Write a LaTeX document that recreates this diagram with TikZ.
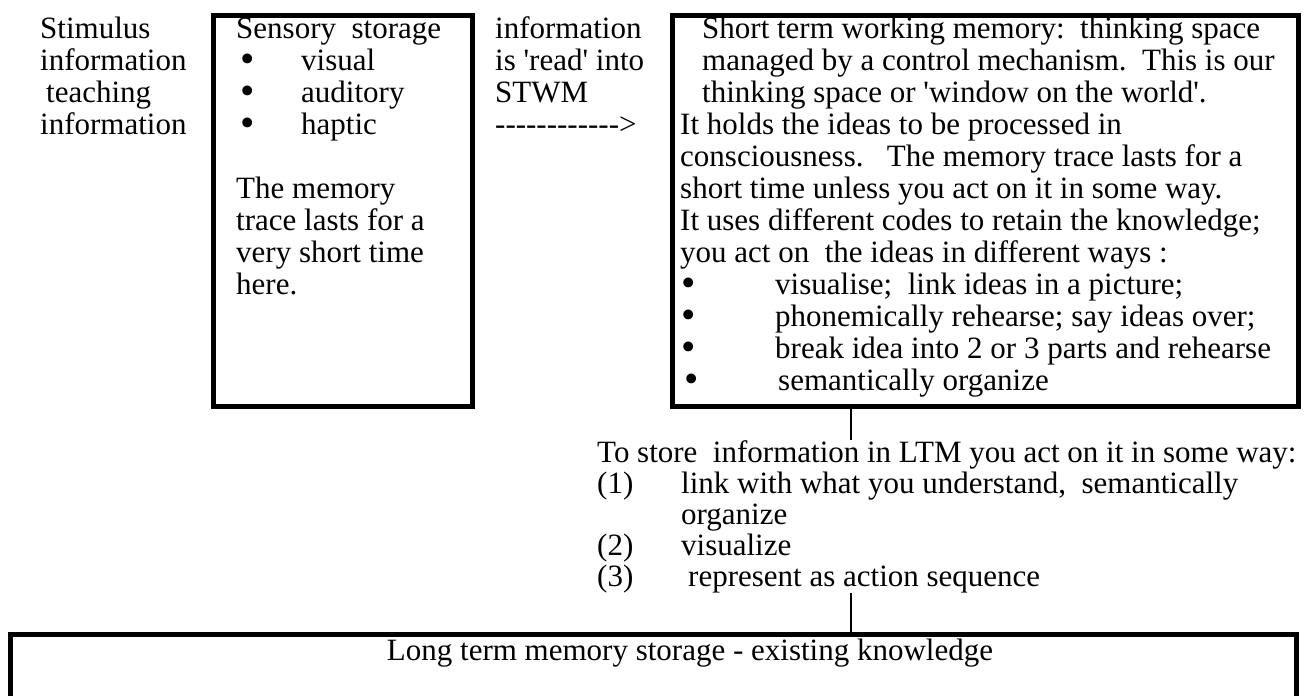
\documentclass[tikz,border=0pt]{standalone}
\usepackage{fontspec}
\setmainfont{Liberation Serif}[Ligatures=TeXOff]
\newcommand{\bigbul}{\smash{\raisebox{-2.5pt}{\fontsize{41}{32}\selectfont •}}}
\begin{document}
\begin{tikzpicture}[x=1pt,y=-1pt,
  box/.style={draw, line width=5pt, rectangle, inner sep=0pt, anchor=north west},
  txt/.style={anchor=north west, inner sep=0pt, align=left, font=\fontsize{31}{32}\selectfont},
  conn/.style={line width=1.5pt}]
\path[use as bounding box] (0,0) rectangle (1304,696);
\clip (0,0) rectangle (1304,696);

% boxes
\node[box, minimum width=259pt, minimum height=391pt] (sens) at (210.5,12.5) {};
\node[box, minimum width=626pt, minimum height=391pt] (stwm) at (669.5,12.5) {};
\node[box, minimum width=1286pt, minimum height=200pt] (ltm) at (7.5,631.5) {};

% texts
\node[txt] (stimtxt) at (40,15.6) {\strut Stimulus\\information\\\hspace*{6pt}teaching\\information};

\node[txt] (senstxt) at (236,15.6) {\strut Sensory\ \ storage\\
\hspace*{4pt}\makebox[61pt][l]{\bigbul}visual\\
\hspace*{4pt}\makebox[61pt][l]{\bigbul}auditory\\
\hspace*{4pt}\makebox[61pt][l]{\bigbul}haptic\\
\mbox{}\\
The memory\\
trace lasts for a\\
very short time\\
here.};

\node[txt] (infotxt) at (495,15.6) {\strut information\\is 'read' into\\STWM\\-{}-{}-{}-{}-{}-{}-{}-{}-{}-{}-{}->};

\node[txt] (stwmtxt) at (680,15.6) {\strut\hspace*{22pt}Short term working memory:\ \ thinking space\\
\hspace*{22pt}managed by a control mechanism.\ \ This is our\\
\hspace*{22pt}thinking space or 'window on the world'.\\
It holds the ideas to be processed in\\
consciousness.\ \ \ The memory trace lasts for a\\
short time unless you act on it in some way.\\
It uses different codes to retain the knowledge;\\
you act on\ \ the ideas in different ways :\\
\hspace*{1pt}\makebox[94pt][l]{\bigbul}visualise;\ \ link ideas in a picture;\\
\hspace*{1pt}\makebox[94pt][l]{\bigbul}phonemically rehearse; say ideas over;\\
\hspace*{1pt}\makebox[94pt][l]{\bigbul}break idea into 2 or 3 parts and rehearse\\
\hspace*{4pt}\makebox[94pt][l]{\bigbul}semantically organize};

\node[txt, font=\fontsize{31}{31}\selectfont] (store) at (597,440.3) {\strut To store\ \ information in LTM you act on it in some way:\\
\makebox[84pt][l]{(1)}link with what you understand,\ \ semantically\\
\makebox[84pt][l]{}organize\\
\makebox[84pt][l]{(2)}visualize\\
\makebox[84pt][l]{(3)}\hspace*{7pt}represent as action sequence};

\node[anchor=base, inner sep=0pt, font=\fontsize{31}{32}\selectfont] (ltmtxt) at (690,660) {Long term memory storage - existing knowledge};

% connectors
\coordinate (j) at (851,0);
\draw[conn] (stwm.south -| j) -- (store.north -| j);
\draw[conn] (store.south -| j) -- (ltm.north -| j);
\end{tikzpicture}
\end{document}
